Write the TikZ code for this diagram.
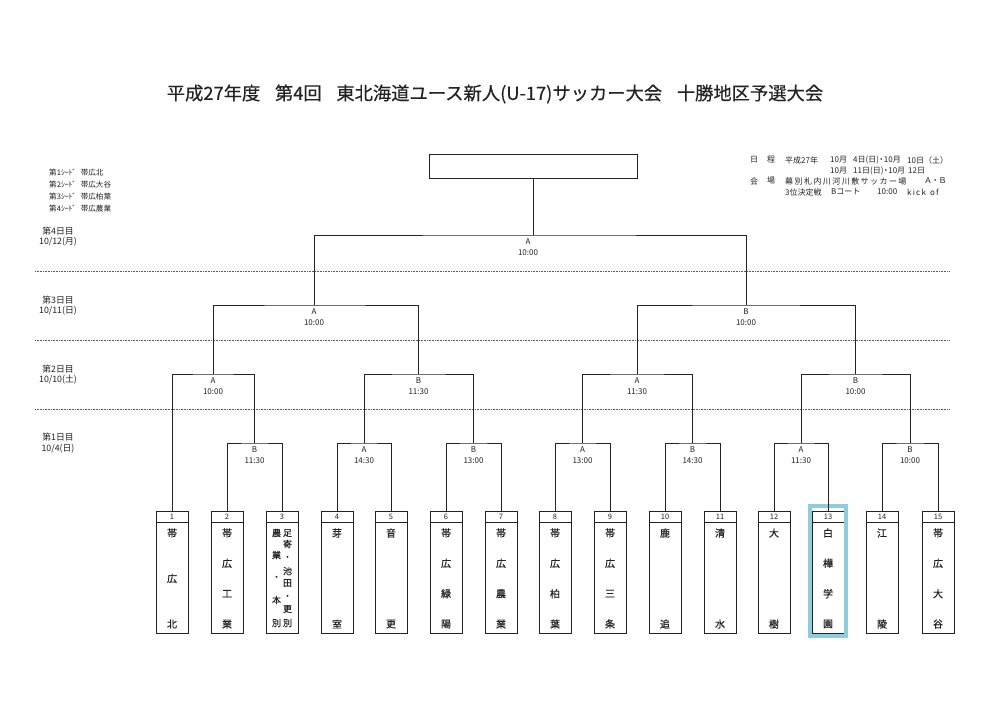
\documentclass[tikz,border=0pt]{standalone}
\usepackage{fontspec}
\setmainfont{Noto Sans CJK JP}
\newfontfamily\medfont{Noto Sans CJK JP}[FakeBold=0.6]
\newfontfamily\titlefont{Noto Sans CJK JP}[FakeBold=0.3]
\newfontfamily\spacedfont{Noto Sans CJK JP}[LetterSpace=18]
\usetikzlibrary{calc}
\definecolor{ink}{RGB}{35,35,35}
\definecolor{hl}{RGB}{140,206,224}
\tikzset{
  brk/.style={draw=ink, line width=0.8pt},
  sepline/.style={draw=ink!75, line width=0.6pt, densely dotted},
  tbox/.style={draw=ink, line width=0.9pt, minimum width=32pt, minimum height=122pt, inner sep=0pt},
  mlab/.style={font=\fontsize{8}{9}\selectfont, inner sep=0pt, text=ink},
  tchar/.style={font=\medfont\fontsize{10}{11}\selectfont, inner sep=0pt, text=ink},
  tcharsm/.style={font=\medfont\fontsize{9}{10}\selectfont, inner sep=0pt, text=ink},
  numlab/.style={font=\fontsize{7.5}{8}\selectfont, inner sep=0pt, text=ink},
  smalltext/.style={font=\fontsize{7.6}{9}\selectfont, inner sep=0pt, anchor=west, text=ink},
  infotext/.style={font=\fontsize{8}{10}\selectfont, inner sep=0pt, anchor=west, text=ink},
  daylab/.style={font=\fontsize{8.8}{10}\selectfont, inner sep=0pt, text=ink},
}
\newcommand{\vteam}[4]{%
  \foreach \ch [count=\k from 0] in {#4} {\node[tchar] (#1-\k) at (#2, 533+\k*#3) {\ch};}}
\begin{document}
\begin{tikzpicture}[x=1pt,y=-1pt]
\fill[white] (0,0) rectangle (1000,706);
\useasboundingbox (0,0) rectangle (1000,706);

% title
\node[font=\titlefont\fontsize{18.3}{21}\selectfont, inner sep=0pt, text=ink] (title) at (495,94)
  {平成27年度\hspace{0.8em}第4回\hspace{0.8em}東北海道ユース新人(U-17)サッカー大会\hspace{0.8em}十勝地区予選大会};

% seeds
\node[smalltext] (seed1) at (49,173) {第1ｼｰﾄﾞ\hspace{0.6em}帯広北};
\node[smalltext] (seed2) at (49,185) {第2ｼｰﾄﾞ\hspace{0.6em}帯広大谷};
\node[smalltext] (seed3) at (49,197) {第3ｼｰﾄﾞ\hspace{0.6em}帯広柏葉};
\node[smalltext] (seed4) at (49,209) {第4ｼｰﾄﾞ\hspace{0.6em}帯広農業};

% info block
\node[infotext] (ia1) at (750,160) {日};
\node[infotext] (ia2) at (767,160) {程};
\node[infotext] (ia3) at (785,160) {平成27年};
\node[infotext] (ia4) at (830,160) {10月};
\node[infotext] (ia5) at (853,160) {4日(日)\hspace{-0.2em}・\hspace{-0.2em}10月};
\node[infotext] (ia6) at (907,160) {10日（土）};
\node[infotext] (ib1) at (830,171) {10月};
\node[infotext] (ib2) at (853,171) {11日(日)\hspace{-0.2em}・\hspace{-0.2em}10月};
\node[infotext] (ib3) at (908,171) {12日};
\node[infotext] (ic1) at (750,181) {会};
\node[infotext] (ic2) at (767,181) {場};
\node[infotext, font=\spacedfont\fontsize{8}{10}\selectfont] (ic3) at (785,181) {幕別札内川河川敷サッカー場};
\node[infotext] (ic4) at (924,181) {Ａ\hspace{-0.1em}・\hspace{-0.1em}Ｂ};
\node[infotext] (id1) at (785,192) {3位決定戦};
\node[infotext] (id2) at (831,192) {Bコート};
\node[infotext] (id3) at (877,192) {10:00};
\node[infotext] (id4) at (907,192) {k\hspace{0.15em}i\hspace{0.15em}c\hspace{0.15em}k\hspace{0.15em} \hspace{0.15em}o\hspace{0.15em}f};

% day labels
\node[daylab] (d4a) at (58,231) {第4日目};
\node[daylab] (d4b) at (58,242) {10/12(月)};
\node[daylab] (d3a) at (58,300) {第3日目};
\node[daylab] (d3b) at (58,311) {10/11(日)};
\node[daylab] (d2a) at (58,369) {第2日目};
\node[daylab] (d2b) at (58,380) {10/10(土)};
\node[daylab] (d1a) at (58,437) {第1日目};
\node[daylab] (d1b) at (58,449) {10/4(日)};

% separators
\coordinate (sepL1) at (35,271); \coordinate (sepR1) at (949,271);
\coordinate (sepL2) at (35,340); \coordinate (sepR2) at (949,340);
\coordinate (sepL3) at (35,409); \coordinate (sepR3) at (949,409);
\draw[sepline] (sepL1) -- (sepR1);
\draw[sepline] (sepL2) -- (sepR2);
\draw[sepline] (sepL3) -- (sepR3);

% team boxes
\foreach \i/\x in {1/172,2/227,3/282,4/337,5/391,6/446,7/501,8/555,9/610,10/665,11/720,12/774,13/828,14/882,15/938} {
  \node[tbox] (b\i) at (\x,572) {};
  \draw[ink, line width=0.8pt] ($(b\i.north west)+(0,12)$) -- ($(b\i.north east)+(0,12)$);
  \node[numlab] (n\i) at ($(b\i.north)+(0,6)$) {\i};
}

% team names
\vteam{t1}{172}{45.5}{帯,広,北}
\vteam{t2}{227}{30.33}{帯,広,工,業}
\vteam{t4}{337}{91}{芽,室}
\vteam{t5}{391}{91}{音,更}
\vteam{t6}{446}{30.33}{帯,広,緑,陽}
\vteam{t7}{501}{30.33}{帯,広,農,業}
\vteam{t8}{555}{30.33}{帯,広,柏,葉}
\vteam{t9}{610}{30.33}{帯,広,三,条}
\vteam{t10}{665}{91}{鹿,追}
\vteam{t11}{720}{91}{清,水}
\vteam{t12}{774}{91}{大,樹}
\vteam{t13}{828}{30.33}{白,樺,学,園}
\vteam{t14}{882}{91}{江,陵}
\vteam{t15}{938}{30.33}{帯,広,大,谷}
% box 3: two columns
\foreach \ch/\yy [count=\k] in {足/533,寄/544,・/558,池/571,田/583,・/597,更/609,別/623}
  {\node[tcharsm] (t3r-\k) at (287.5,\yy) {\ch};}
\foreach \ch/\yy [count=\k] in {農/533,業/555,・/578,本/600,別/623}
  {\node[tcharsm] (t3l-\k) at (276.5,\yy) {\ch};}

% highlight of box 13
\draw[hl, line width=4pt] (810,506) rectangle (846,636);

% top (winner) box
\node[draw=ink, line width=0.9pt, minimum width=208pt, minimum height=24pt, inner sep=0pt] (top) at (533,166) {};

% match points
\coordinate (m23) at (254.5,443);
\coordinate (m45) at (364,443);
\coordinate (m67) at (473.5,443);
\coordinate (m89) at (582.5,443);
\coordinate (m1011) at (692.5,443);
\coordinate (m1213) at (801,443);
\coordinate (m1415) at (910,443);
\coordinate (q1) at (213,374);
\coordinate (q2) at (418.5,374);
\coordinate (q3) at (637,374);
\coordinate (q4) at (855.5,374);
\coordinate (s1) at (314,305);
\coordinate (s2) at (746,305);
\coordinate (fin) at (528,235);
\coordinate (finv) at (533,235);

% bracket lines
\draw[brk] (b2.north) |- (m23) -| (b3.north);
\draw[brk] (b4.north) |- (m45) -| (b5.north);
\draw[brk] (b6.north) |- (m67) -| (b7.north);
\draw[brk] (b8.north) |- (m89) -| (b9.north);
\draw[brk] (b10.north) |- (m1011) -| (b11.north);
\draw[brk] (b12.north) |- (m1213) -| (b13.north);
\draw[brk] (b14.north) |- (m1415) -| (b15.north);
\draw[brk] (b1.north) |- (q1) -| (m23);
\draw[brk] (m45) |- (q2) -| (m67);
\draw[brk] (m89) |- (q3) -| (m1011);
\draw[brk] (m1213) |- (q4) -| (m1415);
\draw[brk] (q1) |- (s1) -| (q2);
\draw[brk] (q3) |- (s2) -| (q4);
\draw[brk] (s1) |- (fin) -| (s2);
\draw[brk] (finv) -- (top.south);

% match labels
\foreach \p/\a/\t in {m23/B/11:30, m45/A/14:30, m67/B/13:00, m89/A/13:00, m1011/B/14:30, m1213/A/11:30, m1415/B/10:00,
                     q1/A/10:00, q2/B/11:30, q3/A/11:30, q4/B/10:00, s1/A/10:00, s2/B/10:00, fin/A/10:00} {
  \path (\p) ++(0,7) node[mlab] (\p-a) {\a} ++(0,11) node[mlab] (\p-t) {\t};
}
\end{tikzpicture}
\end{document}
